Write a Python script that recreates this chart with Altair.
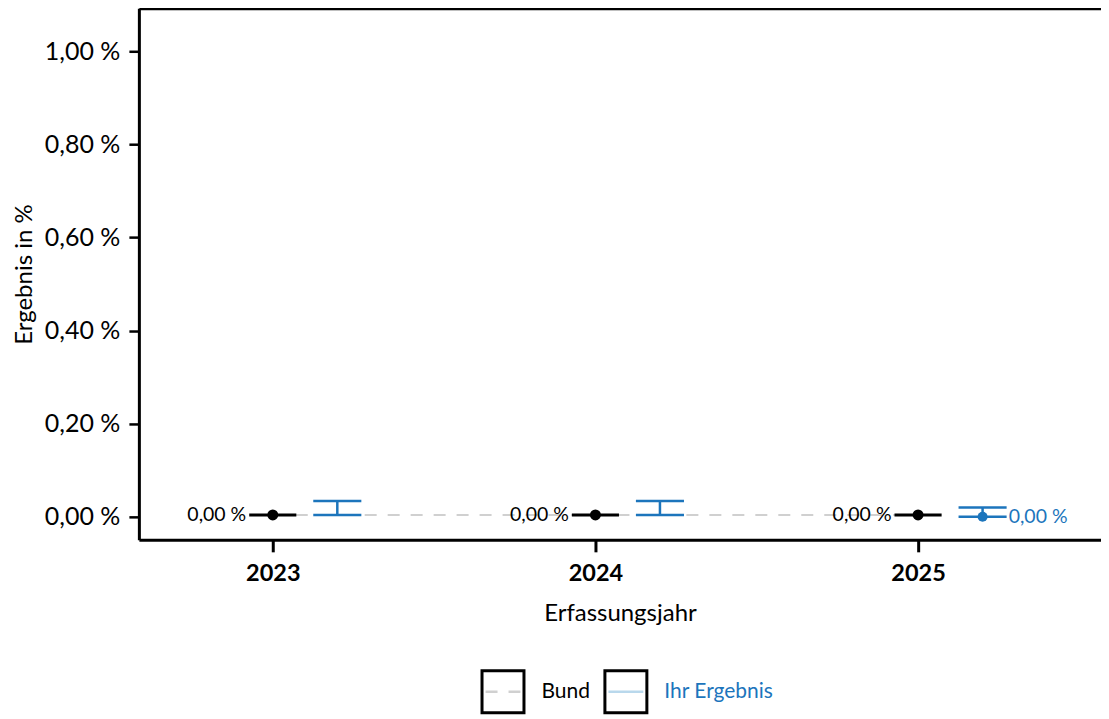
import altair as alt
import pandas as pd

# ---- data ----
years = [2023, 2024, 2025]
bund_values = [0.004, 0.004, 0.004]
bund_labels = ["0,00 %", "0,00 %", "0,00 %"]
ihr_values = [None, None, 0.0]
ihr_labels = ["", "", "0,00 %"]
ihr_lower = [0.004, 0.004, 0.0]
ihr_upper = [0.034, 0.034, 0.020]
y_ticks = [0.0, 0.2, 0.4, 0.6, 0.8, 1.0]
legend_items = ["Bund", "Ihr Ergebnis"]

BLUE = "#1c75bc"
GRAY = "#d0d0d0"
LIGHTBLUE = "#b9d8ec"
FONT = "Lato"

df = pd.DataFrame({
    "year": years,
    "bund": bund_values,
    "bund_label": bund_labels,
    "ihr": ihr_values,
    "ihr_label": ihr_labels,
    "lo": ihr_lower,
    "hi": ihr_upper,
})

xscale = alt.Scale(domain=[2022.585, 2025.567], nice=False, zero=False)
yscale = alt.Scale(domain=[-0.0494, 1.0923], nice=False, zero=False)

yaxis = alt.Axis(
    values=y_ticks,
    labelExpr="replace(format(datum.value, '.2f'), '.', ',') + ' %'",
    tickSize=10, tickWidth=2.5, domainWidth=3, labelPadding=9,
    labelFontSize=25, titleFontSize=24, titlePadding=8,
    grid=False,
)
ytitle = "Ergebnis in %"

base = alt.Chart(df).transform_calculate(
    xi="datum.year + 0.2",
    bl="datum.year - 0.073",
    br="datum.year + 0.073",
    cl="datum.year + 0.2 - 0.0745",
    cr="datum.year + 0.2 + 0.0745",
)

# dashed Bund line (carries the top border axis)
bund_line = base.mark_line(color=GRAY, strokeWidth=2, strokeDash=[12, 11]).encode(
    x=alt.X("year:Q", scale=xscale,
            axis=alt.Axis(orient="top", labels=False, ticks=False, title=None,
                          domainColor="black", domainWidth=3, grid=False)),
    y=alt.Y("bund:Q", scale=yscale, axis=yaxis, title=ytitle),
)

# blue CI vertical
ci_vert = base.mark_rule(color=BLUE, strokeWidth=2.5).encode(
    x=alt.X("xi:Q", scale=xscale, axis=None),
    y=alt.Y("lo:Q", scale=yscale, axis=yaxis, title=ytitle),
    y2="hi:Q",
)

# blue CI caps
ci_caps = base.transform_fold(["lo", "hi"], as_=["bound", "bval"]).mark_rule(
    color=BLUE, strokeWidth=2.5
).encode(
    x=alt.X("cl:Q", scale=xscale, axis=None),
    x2="cr:Q",
    y=alt.Y("bval:Q", scale=yscale, axis=yaxis, title=ytitle),
)

# black Bund segment
bund_seg = base.mark_rule(color="black", strokeWidth=3).encode(
    x=alt.X("bl:Q", scale=xscale, axis=None),
    x2="br:Q",
    y=alt.Y("bund:Q", scale=yscale, axis=yaxis, title=ytitle),
)

# black Bund point (carries bottom axis)
bund_pt = base.mark_circle(color="black", size=120, opacity=1).encode(
    x=alt.X("year:Q", scale=xscale,
            axis=alt.Axis(values=years, format="d", title="Erfassungsjahr",
                          labelFontWeight="bold", labelFontSize=23.5,
                          titleFontSize=24, tickSize=12, tickWidth=3,
                          domainWidth=3, labelPadding=10, titlePadding=16,
                          grid=False)),
    y=alt.Y("bund:Q", scale=yscale, axis=yaxis, title=ytitle),
)

bund_txt = base.mark_text(align="right", baseline="middle", dx=-3, fontSize=19.5,
                          font=FONT, color="black").encode(
    x=alt.X("bl:Q", scale=xscale, axis=None),
    y=alt.Y("bund:Q", scale=yscale, axis=yaxis, title=ytitle),
    text="bund_label:N",
)

ihr_pt = base.transform_filter("isValid(datum.ihr)").mark_circle(
    color=BLUE, size=100, opacity=1
).encode(
    x=alt.X("xi:Q", scale=xscale, axis=None),
    y=alt.Y("ihr:Q", scale=yscale, axis=yaxis, title=ytitle),
)

ihr_txt = base.transform_filter("isValid(datum.ihr)").mark_text(
    align="left", baseline="middle", dx=2, fontSize=19.5, font=FONT, color=BLUE
).encode(
    x=alt.X("cr:Q", scale=xscale, axis=None),
    y=alt.Y("ihr:Q", scale=yscale, axis=yaxis, title=ytitle),
    text="ihr_label:N",
)

main = alt.layer(
    bund_line, ci_vert, ci_caps, bund_seg, bund_pt, bund_txt, ihr_pt, ihr_txt
).resolve_axis(x="independent").properties(width=963, height=532)

# ---- legend ----
leg_df = pd.DataFrame({"item": legend_items, "idx": [0, 1], "pos": [0, 0]})
lx = alt.Scale(domain=[-2.963, 3.541], nice=False, zero=False)
ly = alt.Scale(domain=[-1, 1], nice=False, zero=False)
lbase = alt.Chart(leg_df).transform_calculate(
    a="datum.idx - 0.142", b="datum.idx + 0.142", t="datum.idx + 0.313"
)
leg_box = lbase.mark_square(filled=False, color="black", strokeWidth=3, size=1764,
                            opacity=1).encode(
    x=alt.X("idx:Q", scale=lx, axis=None),
    y=alt.Y("pos:Q", scale=ly, axis=None),
)
leg_line = lbase.mark_rule(strokeWidth=2.5).encode(
    x=alt.X("a:Q", scale=lx, axis=None),
    x2="b:Q",
    y=alt.Y("pos:Q", scale=ly, axis=None),
    color=alt.Color("item:N", scale=alt.Scale(domain=legend_items, range=[GRAY, LIGHTBLUE]),
                    legend=None),
    strokeDash=alt.StrokeDash("item:N",
                              scale=alt.Scale(domain=legend_items, range=[[12, 11], [1, 0]]),
                              legend=None),
)
leg_text = lbase.mark_text(align="left", baseline="middle", fontSize=21, font=FONT).encode(
    x=alt.X("t:Q", scale=lx, axis=None),
    y=alt.Y("pos:Q", scale=ly, axis=None),
    text="item:N",
    color=alt.Color("item:N", scale=alt.Scale(domain=legend_items, range=["black", BLUE]),
                    legend=None),
)
legend = alt.layer(leg_box, leg_line, leg_text).resolve_scale(
    color="independent"
).properties(width=800, height=44)

chart = alt.vconcat(main, legend, spacing=39).properties(
    padding={"left": 4, "top": 0, "right": 0, "bottom": 0}
).configure(
    font=FONT
).configure_view(
    stroke=None
).configure_axis(
    labelFont=FONT, titleFont=FONT, labelColor="black", titleColor="black",
    domainColor="black", tickColor="black", titleFontWeight="normal",
)

chart.save("out.html", embed_options={"renderer": "svg", "actions": False})
